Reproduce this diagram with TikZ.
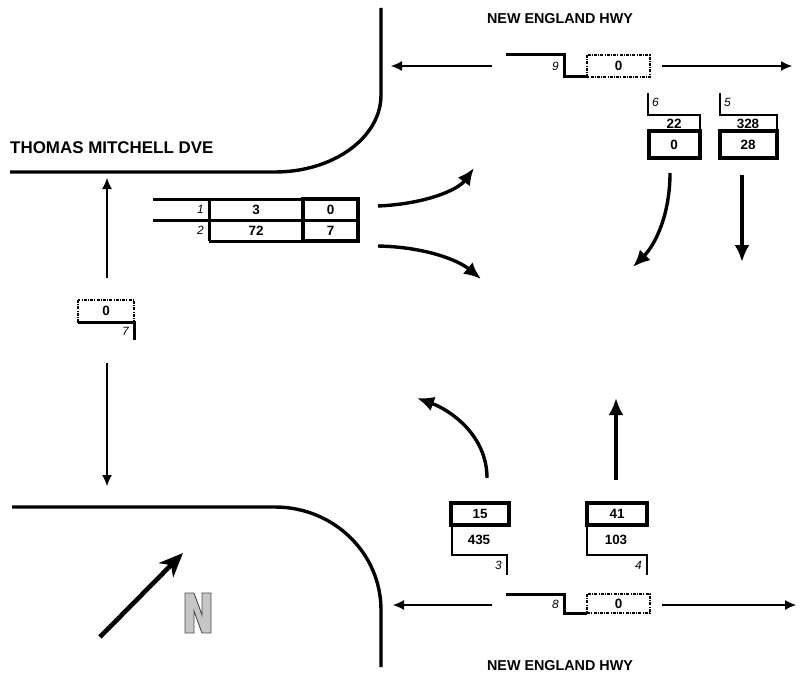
\documentclass[tikz,border=0pt]{standalone}
\usepackage{fontspec}
\setmainfont{Liberation Sans}
\usetikzlibrary{arrows.meta}
\begin{document}
\begin{tikzpicture}[>=latex,line join=miter,x=1bp,y=-1bp,
  road/.style={line width=3.4bp},
  heavy/.style={line width=3bp},
  light/.style={line width=2bp},
  dashbox/.style={line width=1.5bp,dash pattern=on 3bp off 1.2bp on 1bp off 1.2bp},
  flow/.style={line width=1.1bp,-{Latex[length=11bp,width=10bp]}},
  move/.style={line width=3.4bp,-{Latex[length=17bp,width=15bp]}},
  count/.style={font=\fontsize{13.5}{15}\selectfont\bfseries,inner sep=0pt},
  movno/.style={font=\fontsize{12}{14}\selectfont\itshape,inner sep=0pt},
  street/.style={font=\fontsize{14.4}{16}\selectfont\bfseries,inner sep=0pt}]
\useasboundingbox (0,0) rectangle (807,680);
%%
  % Node: street names
  \node[street,anchor=west,font=\fontsize{17}{19}\selectfont\bfseries] (tmd) at (10,148) {THOMAS MITCHELL DVE};
  \node[street] (neh top) at (560,19) {NEW ENGLAND HWY};
  \node[street] (neh bot) at (560,666) {NEW ENGLAND HWY};
  % Kerb: north-west corner
  \draw[road] (381,8) -- (381,95) .. controls (381,137.5) and (333.5,172) .. (275,172) -- (10,172);
  % Kerb: south-west corner
  \draw[road] (12,507) -- (275,507) .. controls (333.5,507) and (381,553) .. (381,610) -- (381,667);
%%
  % Node: movements 1 and 2
\begin{scope}
  \draw[heavy] (153,199) -- (358,199);
  \draw[heavy] (153,220) -- (358,220);
  \draw[heavy] (209,241) -- (358,241);
  \draw[heavy] (209,199) -- (209,241);
  \draw[line width=3.6bp] (303,199) rectangle (358,241);
  \node[movno,anchor=east] (m1) at (204,209.5) {1};
  \node[movno,anchor=east] (m2) at (204,230.5) {2};
  \node[count] (m1 all) at (256,209.5) {3};
  \node[count] (m2 all) at (256,230.5) {72};
  \node[count] (m1 hv) at (330.5,209.5) {0};
  \node[count] (m2 hv) at (330.5,230.5) {7};
\end{scope}
  % Node: movement 9
\begin{scope}
  \draw[heavy] (506,55) -- (564,55) -- (564,77) -- (587,77);
  \draw[dashbox] (587,55) rectangle (650,77);
  \node[movno,anchor=east] (m9) at (559,66) {9};
  \node[count] (m9 all) at (618.5,66) {0};
\end{scope}
  % Node: movement 8
\begin{scope}
  \draw[heavy] (506,594) -- (564,594) -- (564,613) -- (587,613);
  \draw[dashbox] (587,594) rectangle (650,613);
  \node[movno,anchor=east] (m8) at (559,604) {8};
  \node[count] (m8 all) at (618.5,603.5) {0};
\end{scope}
  % Node: movement 6
\begin{scope}
  \draw[light] (648,93) -- (648,115) -- (700,115) -- (700,131);
  \draw[line width=3.6bp] (649,131) rectangle (700,158);
  \node[movno,anchor=west] (m6) at (652,102) {6};
  \node[count] (m6 all) at (674,124) {22};
  \node[count] (m6 hv) at (674,145) {0};
\end{scope}
  % Node: movement 5
\begin{scope}
  \draw[light] (720,93) -- (720,115) -- (777,115) -- (777,131);
  \draw[line width=3.6bp] (720,131) rectangle (777,158);
  \node[movno,anchor=west] (m5) at (724,102) {5};
  \node[count] (m5 all) at (748,124) {328};
  \node[count] (m5 hv) at (748,145) {28};
\end{scope}
  % Node: movement 7
\begin{scope}
  \draw[dashbox] (78,300) rectangle (134,322);
  \draw[heavy] (78,322) -- (134,322) -- (134,340);
  \node[count] (m7 all) at (106,311) {0};
  \node[movno,anchor=east] (m7) at (129,331) {7};
\end{scope}
  % Node: movement 3
\begin{scope}
  \draw[line width=3.6bp] (451,503) rectangle (509,525);
  \draw[light] (452,525) -- (452,555) -- (507,555) -- (507,575);
  \node[count] (m3 hv) at (480,514) {15};
  \node[count] (m3 all) at (479,540) {435};
  \node[movno,anchor=east] (m3) at (502,565) {3};
\end{scope}
  % Node: movement 4
\begin{scope}
  \draw[line width=3.6bp] (587,503) rectangle (647,525);
  \draw[light] (587,525) -- (587,555) -- (647,555) -- (647,575);
  \node[count] (m4 hv) at (617,514) {41};
  \node[count] (m4 all) at (616,540) {103};
  \node[movno,anchor=east] (m4) at (642,565) {4};
\end{scope}
%%
  % Coordinates: arrow ends
  \coordinate (w up s) at (107,278);  \coordinate (w up e) at (107,178);
  \coordinate (w dn s) at (107,363);  \coordinate (w dn e) at (107,486);
  \coordinate (n lt s) at (492,66);   \coordinate (n lt e) at (391,66);
  \coordinate (n rt s) at (662,66);   \coordinate (n rt e) at (792,66);
  \coordinate (s lt s) at (492,605);  \coordinate (s lt e) at (393,605);
  \coordinate (s rt s) at (662,605);  \coordinate (s rt e) at (796,605);
  \coordinate (t1 s) at (378,206);    \coordinate (t1 e) at (474,168);
  \coordinate (t2 s) at (378,246);    \coordinate (t2 e) at (481,279);
  \coordinate (t6 s) at (670,173);    \coordinate (t6 e) at (633,267);
  \coordinate (t5 s) at (742,175);    \coordinate (t5 e) at (742,262);
  \coordinate (t4 s) at (616,480);    \coordinate (t4 e) at (616,398);
  \coordinate (t3 s) at (487,478);    \coordinate (t3 e) at (417,398);
  \coordinate (north s) at (100,637); \coordinate (north e) at (183,553);
  % Edge: leg totals
  \draw[flow] (w up s) -- (w up e);
  \draw[flow] (w dn s) -- (w dn e);
  \draw[flow] (n lt s) -- (n lt e);
  \draw[flow] (n rt s) -- (n rt e);
  \draw[flow] (s lt s) -- (s lt e);
  \draw[flow] (s rt s) -- (s rt e);
  % Edge: turning movements
  \draw[move] (t1 s) .. controls (425,204) and (458,190) .. (t1 e);
  \draw[move] (t2 s) .. controls (425,247) and (458,260) .. (t2 e);
  \draw[move] (t6 s) .. controls (670,215) and (655,245) .. (t6 e);
  \draw[move] (t5 s) -- (t5 e);
  \draw[move] (t4 s) -- (t4 e);
  \draw[move] (t3 s) .. controls (487,435) and (450,410) .. (t3 e);
  % Node: north point
  \draw[line width=4.6bp,-{Stealth[length=24bp,width=20bp,inset=7bp]}] (north s) -- (north e);
  \draw[fill=gray!45,draw=black!70,line width=0.9bp] (185,633) -- (185,593) -- (194,593) -- (202,615) -- (202,593)
    -- (211,593) -- (211,633) -- (202,633) -- (194,611) -- (194,633) -- cycle;
%
\end{tikzpicture}
\end{document}
